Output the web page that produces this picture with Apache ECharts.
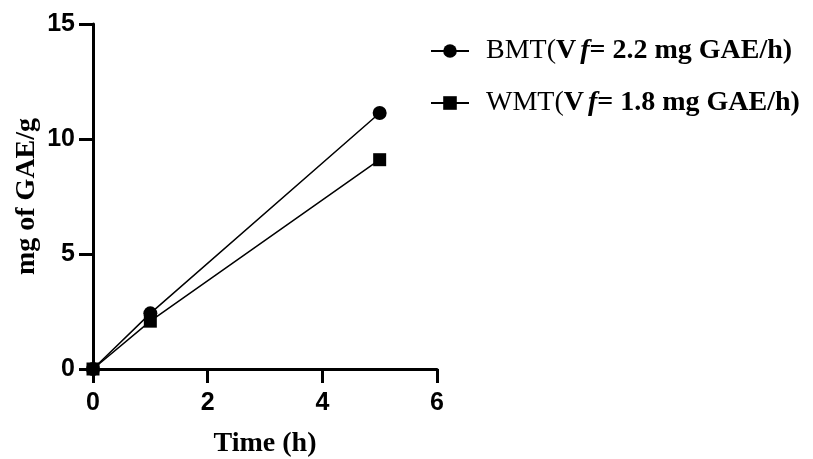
<!DOCTYPE html>
<html><head><meta charset="utf-8">
<script src="https://cdn.jsdelivr.net/npm/echarts@6/dist/echarts.min.js"></script>
<style>html,body{margin:0;padding:0;background:#fff}#c{width:813px;height:459px}</style>
</head><body><div id="c"></div>
<script>
const timeH = [0, 1, 5];
const bmtValues = [0, 2.42, 11.13];
const wmtValues = [0, 2.08, 9.10];
const seriesNames = ['BMT', 'WMT'];
const vfValues = ['2.2', '1.8'];
const xTicks = [0, 2, 4, 6];
const yTicks = [0, 5, 10, 15];

const chart = echarts.init(document.getElementById('c'));
const axisCommon = {
  axisLine: {show: true, lineStyle: {color: '#000', width: 3}},
  axisTick: {show: true, inside: false, length: 14, lineStyle: {color: '#000', width: 3}},
  splitLine: {show: false},
  axisLabel: {color: '#000', fontFamily: 'Liberation Sans', fontWeight: 'bold', fontSize: 25},
  nameTextStyle: {color: '#000', fontFamily: 'Liberation Serif', fontWeight: 'bold', fontSize: 28}
};
chart.setOption({
  animation: false,
  grid: {left: 93, right: 376, top: 24, bottom: 90, containLabel: false, outerBoundsMode: 'none'},
  xAxis: Object.assign({}, axisCommon, {
    type: 'value', min: xTicks[0], max: xTicks[xTicks.length-1], interval: 2,
    name: 'Time (h)', nameLocation: 'middle', nameGap: 61,
    axisLabel: Object.assign({}, axisCommon.axisLabel, {margin: 22})
  }),
  yAxis: Object.assign({}, axisCommon, {
    type: 'value', min: yTicks[0], max: yTicks[yTicks.length-1], interval: 5,
    name: 'mg of GAE/g', nameLocation: 'middle', nameGap: 52,
    axisLabel: Object.assign({}, axisCommon.axisLabel, {margin: 18})
  }),
  legend: {
    orient: 'vertical', left: 425, top: 29, itemGap: 18, itemWidth: 38, itemHeight: 17,
    data: seriesNames,
    formatter: function (name) {
      const i = seriesNames.indexOf(name);
      return '{n|' + name + '(}{b|V}{i|f}{b|= ' + vfValues[i] + ' mg GAE/h)}';
    },
    textStyle: {
      color: '#000', fontSize: 28, fontFamily: 'Liberation Serif', lineHeight: 34,
      rich: {
        n: {fontFamily: 'Liberation Serif', fontSize: 28, color: '#000', lineHeight: 34, padding: [0, 0, 0, 12]},
        b: {fontFamily: 'Liberation Serif', fontSize: 28, fontWeight: 'bold', color: '#000', lineHeight: 34},
        i: {fontFamily: 'Liberation Serif', fontSize: 28, fontWeight: 'bold', fontStyle: 'italic', color: '#000', lineHeight: 34, padding: [0, 0, 0, 4]}
      }
    }
  },
  series: [
    {name: seriesNames[0], type: 'line', data: timeH.map((t, k) => [t, bmtValues[k]]),
     symbol: 'circle', symbolSize: 14, itemStyle: {color: '#000'},
     lineStyle: {color: '#000', width: 1.5}},
    {name: seriesNames[1], type: 'line', data: timeH.map((t, k) => [t, wmtValues[k]]),
     symbol: 'rect', symbolSize: 13, itemStyle: {color: '#000'},
     lineStyle: {color: '#000', width: 1.5}}
  ]
});
</script></body></html>
